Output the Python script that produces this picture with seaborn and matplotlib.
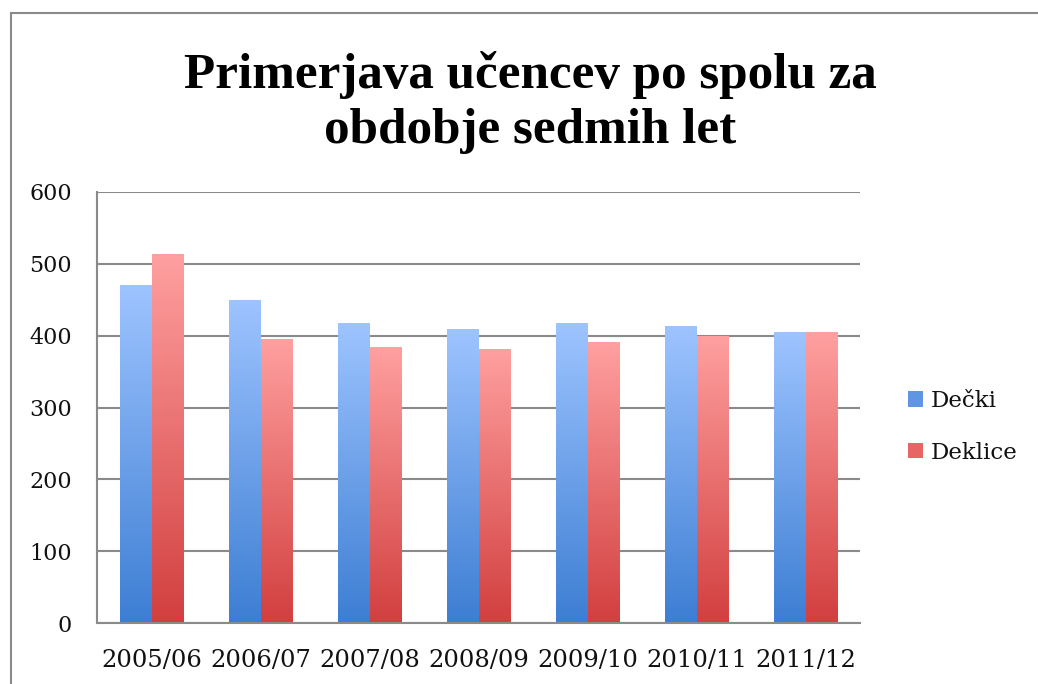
import numpy as np
import pandas as pd
import matplotlib
matplotlib.use('Agg')
import matplotlib.pyplot as plt
from matplotlib.colors import LinearSegmentedColormap
from matplotlib.patches import Rectangle
import seaborn as sns

# Podatki
leta = ['2005/06', '2006/07', '2007/08', '2008/09', '2009/10', '2010/11', '2011/12']
decki = [470, 450, 418, 409, 418, 414, 405]
deklice = [514, 396, 384, 382, 391, 400, 405]
skupine = ['Dečki', 'Deklice']

df = pd.DataFrame({
    'leto': leta * 2,
    'ucenci': decki + deklice,
    'spol': ['Dečki'] * len(leta) + ['Deklice'] * len(leta),
})

sns.set_theme(style='white')
plt.rcParams['font.family'] = ['DejaVu Serif', 'DejaVu Sans']
plt.rcParams['text.color'] = '#111111'

# svetla (zgoraj) in temna (spodaj) barva za vsak niz
barve = {
    'Dečki': ('#9ec4ff', '#3d7ed3'),
    'Deklice': ('#ffa0a0', '#d23f3f'),
}
srednje = {'Dečki': '#5f95e3', 'Deklice': '#e86565'}

fig = plt.figure(figsize=(10.38, 6.84), dpi=100)
ax = fig.add_axes([97 / 1038, 61 / 684, 763 / 1038, 431 / 684])

sns.barplot(data=df, x='leto', y='ucenci', hue='spol', hue_order=skupine,
            palette=srednje, width=0.57, gap=0, saturation=1,
            edgecolor='none', linewidth=0, ax=ax)

ax.set_ylim(0, 600)
ax.set_yticks([0, 100, 200, 300, 400, 500, 600])
xlim = ax.get_xlim()

# gradient na stolpcih
for cont, ime in zip(ax.containers, skupine):
    cmap = LinearSegmentedColormap.from_list(ime, [barve[ime][1], barve[ime][0]])
    for bar in cont:
        x, w, h = bar.get_x(), bar.get_width(), bar.get_height()
        grad = np.linspace(0, 1, 256).reshape(-1, 1)
        img = ax.imshow(grad, extent=[x, x + w, 0, h], origin='lower',
                        aspect='auto', cmap=cmap, zorder=2)
        img.set_clip_path(bar)

ax.set_xlim(xlim)
ax.set_ylim(0, 600)

ax.set_axisbelow(True)
ax.yaxis.grid(True, color='#8a8a8a', linewidth=1.5)
ax.xaxis.grid(False)
for s in ['top', 'right']:
    ax.spines[s].set_visible(False)
for s in ['left', 'bottom']:
    ax.spines[s].set_color('#8a8a8a')
    ax.spines[s].set_linewidth(1.5)

ax.set_xlabel('')
ax.set_ylabel('')
ax.tick_params(axis='x', labelsize=17.5, pad=19, length=0, colors='#111111')
ax.tick_params(axis='y', labelsize=16, pad=18, length=0, colors='#111111')

# legenda
handles, labels = ax.get_legend_handles_labels()
ax.get_legend().remove()
fig.legend(handles, labels, loc='center left', bbox_to_anchor=(887 / 1038, 1 - 427 / 684),
           frameon=False, fontsize=16.5, handlelength=0.65, handleheight=0.65,
           handletextpad=0.35, labelspacing=1.3)

# naslov
naslov = dict(ha='center', va='baseline', fontsize=36.8, fontweight='bold',
              family='Liberation Serif', color='black')
fig.text(530 / 1038, 1 - 88 / 684, 'Primerjava učencev po spolu za', **naslov)
fig.text(530 / 1038, 1 - 143 / 684, 'obdobje sedmih let', **naslov)

# okvir grafikona
fig.add_artist(Rectangle((10.5 / 1038, -0.5), 2, 1.5 - 12.5 / 684, transform=fig.transFigure,
                         fill=False, edgecolor='#8a8a8a', linewidth=1.5, clip_on=False))

fig.savefig('out.png', dpi=100)
